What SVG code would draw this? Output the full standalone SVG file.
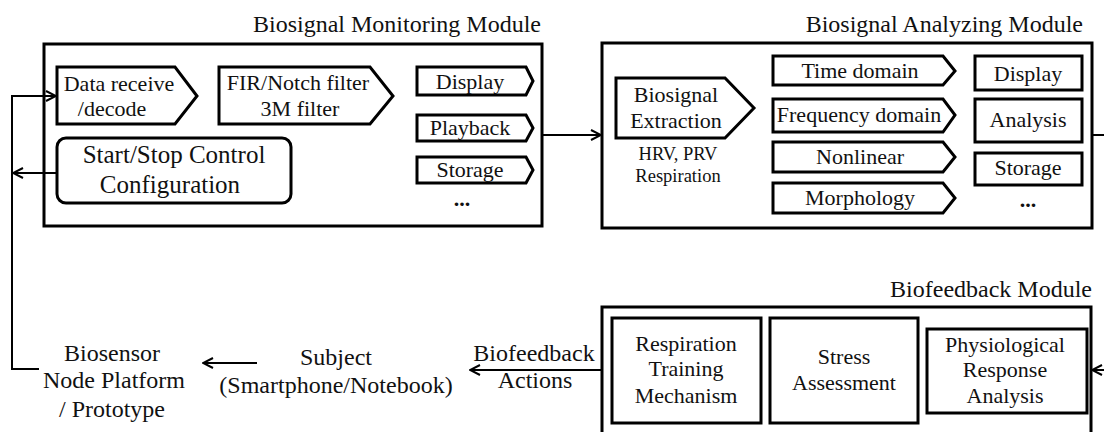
<svg xmlns="http://www.w3.org/2000/svg" width="1104" height="432" viewBox="0 0 1104 432">
  <style>
    text { font-family: "Liberation Serif", "Times New Roman", serif; fill: #111; }
    .lbl { font-size: 22px; text-anchor: middle; }
    .big { font-size: 24px; text-anchor: middle; }
    .title { font-size: 24px; text-anchor: end; }
    .small { font-size: 18.5px; text-anchor: middle; }
    .mod { fill: #fff; stroke: #000; stroke-width: 3; }
    .blk { fill: #fff; stroke: #000; stroke-width: 3; stroke-linejoin: miter; }
    .conn { fill: none; stroke: #000; stroke-width: 2; }
  </style>
  <defs>
    <marker id="arrow" viewBox="0 0 12 12" refX="11" refY="6" markerWidth="12" markerHeight="12" markerUnits="userSpaceOnUse" orient="auto">
      <path d="M1,1 L11,6 L1,11" fill="none" stroke="#000" stroke-width="2"/>
    </marker>
  </defs>

  <rect width="1104" height="432" fill="#fff"/>

  <!-- Biosignal Monitoring Module -->
  <g id="monitoring-module">
    <text class="title" x="541" y="32">Biosignal Monitoring Module</text>
    <rect class="mod" x="44" y="44" width="498" height="182"/>
  </g>
  <g id="data-receive">
    <polygon class="blk" points="57,67 175,67 197,96 175,124 57,124"/>
    <text class="lbl" x="119" y="91">Data receive</text>
    <text class="lbl" x="112" y="116">/decode</text>
  </g>
  <g id="fir-filter">
    <polygon class="blk" points="219,67 370,67 393,96 370,124 219,124"/>
    <text class="lbl" x="298" y="90">FIR/Notch filter</text>
    <text class="lbl" x="300" y="116">3M filter</text>
  </g>
  <g id="start-stop">
    <rect class="blk" x="57" y="138" width="234" height="65" rx="9"/>
    <text class="big" x="174" y="163" style="font-size:25px">Start/Stop Control</text>
    <text class="big" x="170" y="193" style="font-size:25px">Configuration</text>
  </g>
  <g id="mon-display">
    <polygon class="blk" points="417,67 526,67 533,81 526,95 417,95"/>
    <text class="lbl" x="470" y="89">Display</text>
  </g>
  <g id="mon-playback">
    <polygon class="blk" points="417,115 526,115 533,128 526,141 417,141"/>
    <text class="lbl" x="470" y="135">Playback</text>
  </g>
  <g id="mon-storage">
    <polygon class="blk" points="417,157 526,157 533,170 526,183 417,183"/>
    <text class="lbl" x="470" y="177">Storage</text>
  </g>
  <g id="mon-more">
    <text class="lbl" x="462" y="206" style="font-weight:bold">...</text>
  </g>

  <!-- Biosignal Analyzing Module -->
  <g id="analyzing-module">
    <text class="title" x="1083" y="32">Biosignal Analyzing Module</text>
    <rect class="mod" x="602" y="43" width="490" height="185"/>
  </g>
  <g id="extraction">
    <polygon class="blk" points="616,78 725,78 754,108 725,138 616,138"/>
    <text class="lbl" x="676" y="102">Biosignal</text>
    <text class="lbl" x="676" y="128">Extraction</text>
    <text class="small" x="678" y="160">HRV, PRV</text>
    <text class="small" x="678" y="182">Respiration</text>
  </g>
  <g id="time-domain">
    <polygon class="blk" points="773,56 943,56 955,71 943,85 773,85"/>
    <text class="lbl" x="860" y="78">Time domain</text>
  </g>
  <g id="frequency-domain">
    <polygon class="blk" points="773,99 943,99 955,115 943,132 773,132"/>
    <text class="lbl" x="859" y="122">Frequency domain</text>
  </g>
  <g id="nonlinear">
    <polygon class="blk" points="773,142 943,142 955,157 943,172 773,172"/>
    <text class="lbl" x="860" y="164">Nonlinear</text>
  </g>
  <g id="morphology">
    <polygon class="blk" points="773,183 943,183 955,198 943,213 773,213"/>
    <text class="lbl" x="860" y="205">Morphology</text>
  </g>
  <g id="ana-display">
    <rect class="blk" x="975" y="56" width="107" height="34"/>
    <text class="lbl" x="1028" y="81">Display</text>
  </g>
  <g id="ana-analysis">
    <rect class="blk" x="975" y="99" width="107" height="43"/>
    <text class="lbl" x="1028" y="127">Analysis</text>
  </g>
  <g id="ana-storage">
    <rect class="blk" x="975" y="153" width="107" height="32"/>
    <text class="lbl" x="1028" y="175">Storage</text>
  </g>
  <g id="ana-more">
    <text class="lbl" x="1028" y="207" style="font-weight:bold">...</text>
  </g>

  <!-- Biofeedback Module -->
  <g id="biofeedback-module">
    <text class="title" x="1092" y="297">Biofeedback Module</text>
    <rect class="mod" x="602" y="307" width="489" height="140"/>
  </g>
  <g id="respiration-training">
    <rect class="blk" x="612" y="318" width="149" height="105"/>
    <text class="lbl" x="686" y="351">Respiration</text>
    <text class="lbl" x="686" y="376">Training</text>
    <text class="lbl" x="686" y="403">Mechanism</text>
  </g>
  <g id="stress-assessment">
    <rect class="blk" x="770" y="318" width="148" height="105"/>
    <text class="lbl" x="844" y="364">Stress</text>
    <text class="lbl" x="844" y="390">Assessment</text>
  </g>
  <g id="physiological-response">
    <rect class="blk" x="927" y="329" width="160" height="84"/>
    <text class="lbl" x="1005" y="352">Physiological</text>
    <text class="lbl" x="1005" y="377">Response</text>
    <text class="lbl" x="1005" y="403">Analysis</text>
  </g>

  <!-- Stand-alone labels -->
  <g id="biosensor">
    <text class="big" x="112" y="361">Biosensor</text>
    <text class="big" x="114" y="388">Node Platform</text>
    <text class="big" x="112" y="417">/ Prototype</text>
  </g>
  <g id="subject">
    <text class="big" x="336" y="365">Subject</text>
    <text class="big" x="336" y="393">(Smartphone/Notebook)</text>
  </g>
  <g id="biofeedback-actions">
    <text class="big" x="534" y="361">Biofeedback</text>
    <text class="big" x="535" y="388">Actions</text>
  </g>

  <!-- Connectors -->
  <g id="connectors">
    <path class="conn" d="M39,369 H12 V96 H56" marker-end="url(#arrow)"/>
    <path class="conn" d="M56,173 H13" marker-end="url(#arrow)"/>
    <path class="conn" d="M542,135 H601" marker-end="url(#arrow)"/>
    <path class="conn" d="M1092,135 H1104"/>
    <path class="conn" d="M1104,370 H1092" marker-end="url(#arrow)"/>
    <path class="conn" d="M602,370 H470" marker-end="url(#arrow)"/>
    <path class="conn" d="M257,363 H203" marker-end="url(#arrow)"/>
  </g>
</svg>
